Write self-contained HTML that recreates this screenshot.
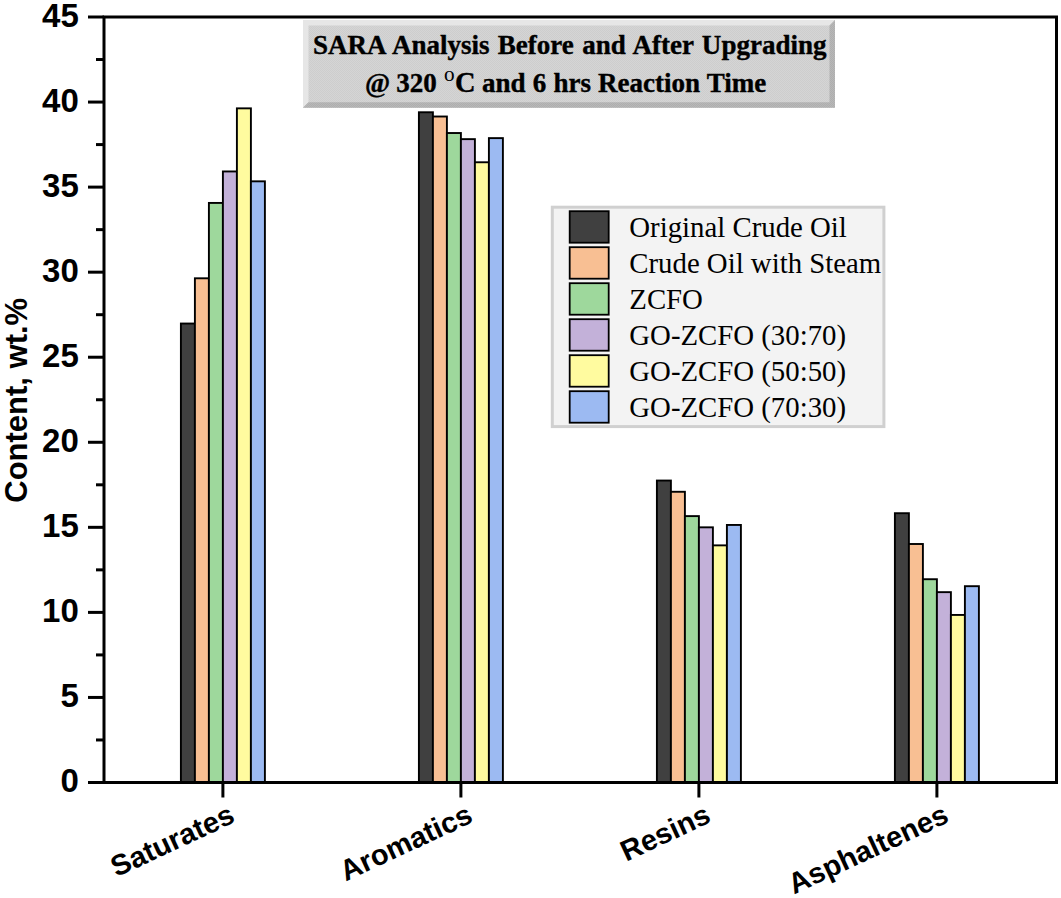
<!DOCTYPE html><html><head><meta charset="utf-8"><style>html,body{margin:0;padding:0;background:#fff;}svg{display:block;}</style></head><body>
<svg width="1061" height="898" viewBox="0 0 1061 898">
<defs><pattern id="dith" width="2" height="2" patternUnits="userSpaceOnUse"><rect width="2" height="2" fill="#d5d5d5"/><rect width="1" height="1" fill="#cdcdcd"/><rect x="1" y="1" width="1" height="1" fill="#cdcdcd"/></pattern><pattern id="dith2" width="2" height="2" patternUnits="userSpaceOnUse"><rect width="2" height="2" fill="#b8b8b8"/><rect width="1" height="1" fill="#aeaeae"/><rect x="1" y="1" width="1" height="1" fill="#aeaeae"/></pattern></defs>
<rect width="1061" height="898" fill="#fff"/>
<rect x="180.90" y="323.54" width="14.00" height="458.96" fill="#404040" stroke="#000" stroke-width="1.9"/>
<rect x="194.90" y="278.29" width="14.00" height="504.21" fill="#f8bf93" stroke="#000" stroke-width="1.9"/>
<rect x="208.90" y="202.93" width="14.00" height="579.57" fill="#9ed89c" stroke="#000" stroke-width="1.9"/>
<rect x="222.90" y="171.46" width="14.00" height="611.04" fill="#c3b1d9" stroke="#000" stroke-width="1.9"/>
<rect x="236.90" y="108.35" width="14.00" height="674.15" fill="#fffb9f" stroke="#000" stroke-width="1.9"/>
<rect x="250.90" y="181.33" width="14.00" height="601.17" fill="#9cbaf2" stroke="#000" stroke-width="1.9"/>
<rect x="418.90" y="112.26" width="14.00" height="670.24" fill="#404040" stroke="#000" stroke-width="1.9"/>
<rect x="432.90" y="116.51" width="14.00" height="665.99" fill="#f8bf93" stroke="#000" stroke-width="1.9"/>
<rect x="446.90" y="133.02" width="14.00" height="649.48" fill="#9ed89c" stroke="#000" stroke-width="1.9"/>
<rect x="460.90" y="139.14" width="14.00" height="643.36" fill="#c3b1d9" stroke="#000" stroke-width="1.9"/>
<rect x="474.90" y="162.27" width="14.00" height="620.23" fill="#fffb9f" stroke="#000" stroke-width="1.9"/>
<rect x="488.90" y="138.12" width="14.00" height="644.38" fill="#9cbaf2" stroke="#000" stroke-width="1.9"/>
<rect x="656.90" y="480.55" width="14.00" height="301.95" fill="#404040" stroke="#000" stroke-width="1.9"/>
<rect x="670.90" y="491.78" width="14.00" height="290.72" fill="#f8bf93" stroke="#000" stroke-width="1.9"/>
<rect x="684.90" y="516.11" width="14.00" height="266.39" fill="#9ed89c" stroke="#000" stroke-width="1.9"/>
<rect x="698.90" y="527.33" width="14.00" height="255.17" fill="#c3b1d9" stroke="#000" stroke-width="1.9"/>
<rect x="712.90" y="545.37" width="14.00" height="237.13" fill="#fffb9f" stroke="#000" stroke-width="1.9"/>
<rect x="726.90" y="524.95" width="14.00" height="257.55" fill="#9cbaf2" stroke="#000" stroke-width="1.9"/>
<rect x="894.90" y="513.21" width="14.00" height="269.29" fill="#404040" stroke="#000" stroke-width="1.9"/>
<rect x="908.90" y="544.00" width="14.00" height="238.50" fill="#f8bf93" stroke="#000" stroke-width="1.9"/>
<rect x="922.90" y="579.22" width="14.00" height="203.28" fill="#9ed89c" stroke="#000" stroke-width="1.9"/>
<rect x="936.90" y="592.15" width="14.00" height="190.35" fill="#c3b1d9" stroke="#000" stroke-width="1.9"/>
<rect x="950.90" y="614.94" width="14.00" height="167.56" fill="#fffb9f" stroke="#000" stroke-width="1.9"/>
<rect x="964.90" y="586.19" width="14.00" height="196.31" fill="#9cbaf2" stroke="#000" stroke-width="1.9"/>
<rect x="104" y="17" width="952.5" height="765.5" fill="none" stroke="#000" stroke-width="3"/>
<line x1="88" y1="782.50" x2="104" y2="782.50" stroke="#000" stroke-width="3"/>
<line x1="96" y1="739.97" x2="104" y2="739.97" stroke="#000" stroke-width="3"/>
<line x1="88" y1="697.44" x2="104" y2="697.44" stroke="#000" stroke-width="3"/>
<line x1="96" y1="654.92" x2="104" y2="654.92" stroke="#000" stroke-width="3"/>
<line x1="88" y1="612.39" x2="104" y2="612.39" stroke="#000" stroke-width="3"/>
<line x1="96" y1="569.86" x2="104" y2="569.86" stroke="#000" stroke-width="3"/>
<line x1="88" y1="527.33" x2="104" y2="527.33" stroke="#000" stroke-width="3"/>
<line x1="96" y1="484.81" x2="104" y2="484.81" stroke="#000" stroke-width="3"/>
<line x1="88" y1="442.28" x2="104" y2="442.28" stroke="#000" stroke-width="3"/>
<line x1="96" y1="399.75" x2="104" y2="399.75" stroke="#000" stroke-width="3"/>
<line x1="88" y1="357.22" x2="104" y2="357.22" stroke="#000" stroke-width="3"/>
<line x1="96" y1="314.69" x2="104" y2="314.69" stroke="#000" stroke-width="3"/>
<line x1="88" y1="272.17" x2="104" y2="272.17" stroke="#000" stroke-width="3"/>
<line x1="96" y1="229.64" x2="104" y2="229.64" stroke="#000" stroke-width="3"/>
<line x1="88" y1="187.11" x2="104" y2="187.11" stroke="#000" stroke-width="3"/>
<line x1="96" y1="144.58" x2="104" y2="144.58" stroke="#000" stroke-width="3"/>
<line x1="88" y1="102.06" x2="104" y2="102.06" stroke="#000" stroke-width="3"/>
<line x1="96" y1="59.53" x2="104" y2="59.53" stroke="#000" stroke-width="3"/>
<line x1="88" y1="17.00" x2="104" y2="17.00" stroke="#000" stroke-width="3"/>
<line x1="222.9" y1="782" x2="222.9" y2="797.5" stroke="#000" stroke-width="3"/>
<line x1="460.9" y1="782" x2="460.9" y2="797.5" stroke="#000" stroke-width="3"/>
<line x1="698.9" y1="782" x2="698.9" y2="797.5" stroke="#000" stroke-width="3"/>
<line x1="936.9" y1="782" x2="936.9" y2="797.5" stroke="#000" stroke-width="3"/>
<text x="78.8" y="792.10" text-anchor="end" font-family="Liberation Sans, sans-serif" font-weight="bold" font-size="33">0</text>
<text x="78.8" y="707.04" text-anchor="end" font-family="Liberation Sans, sans-serif" font-weight="bold" font-size="33">5</text>
<text x="78.8" y="621.99" text-anchor="end" font-family="Liberation Sans, sans-serif" font-weight="bold" font-size="33">10</text>
<text x="78.8" y="536.93" text-anchor="end" font-family="Liberation Sans, sans-serif" font-weight="bold" font-size="33">15</text>
<text x="78.8" y="451.88" text-anchor="end" font-family="Liberation Sans, sans-serif" font-weight="bold" font-size="33">20</text>
<text x="78.8" y="366.82" text-anchor="end" font-family="Liberation Sans, sans-serif" font-weight="bold" font-size="33">25</text>
<text x="78.8" y="281.77" text-anchor="end" font-family="Liberation Sans, sans-serif" font-weight="bold" font-size="33">30</text>
<text x="78.8" y="196.71" text-anchor="end" font-family="Liberation Sans, sans-serif" font-weight="bold" font-size="33">35</text>
<text x="78.8" y="111.66" text-anchor="end" font-family="Liberation Sans, sans-serif" font-weight="bold" font-size="33">40</text>
<text x="78.8" y="26.60" text-anchor="end" font-family="Liberation Sans, sans-serif" font-weight="bold" font-size="33">45</text>
<text transform="translate(27,400.3) rotate(-90)" text-anchor="middle" font-family="Liberation Sans, sans-serif" font-weight="bold" font-size="31">Content, wt.%</text>
<text transform="translate(236.4,821.5) rotate(-25)" text-anchor="end" font-family="Liberation Sans, sans-serif" font-weight="bold" font-size="29">Saturates</text>
<text transform="translate(474.4,821.5) rotate(-25)" text-anchor="end" font-family="Liberation Sans, sans-serif" font-weight="bold" font-size="29">Aromatics</text>
<text transform="translate(712.4,821.5) rotate(-25)" text-anchor="end" font-family="Liberation Sans, sans-serif" font-weight="bold" font-size="29">Resins</text>
<text transform="translate(950.4,821.5) rotate(-25)" text-anchor="end" font-family="Liberation Sans, sans-serif" font-weight="bold" font-size="29">Asphaltenes</text>
<rect x="303" y="20" width="532" height="87.7" fill="url(#dith)"/>
<polygon points="303,20 835,20 829.5,25.5 308.5,25.5 308.5,102.2 303,107.7" fill="#e6e6e6"/>
<polygon points="835,20 835,107.7 303,107.7 308.5,102.2 829.5,102.2 829.5,25.5" fill="url(#dith2)"/>
<text transform="translate(313,54.3) scale(0.965,1)" style="word-spacing:1.66px" font-family="Liberation Serif, serif" font-weight="bold" font-size="28" stroke="#000" stroke-width="0.4">SARA Analysis Before and After Upgrading</text>
<text transform="translate(365,91.7) scale(0.965,1)" style="word-spacing:-0.57px" font-family="Liberation Serif, serif" font-weight="bold" font-size="28" stroke="#000" stroke-width="0.4">@ 320</text>
<text transform="translate(444,80.5) scale(0.965,1)" font-family="Liberation Serif, serif" font-size="22">o</text>
<text transform="translate(455,91.7) scale(0.965,1)" font-family="Liberation Serif, serif" font-weight="bold" font-size="29.5" stroke="#000" stroke-width="0.4">C</text>
<text transform="translate(482,91.7) scale(0.965,1)" style="word-spacing:0.45px" font-family="Liberation Serif, serif" font-weight="bold" font-size="28" stroke="#000" stroke-width="0.4">and 6 hrs Reaction Time</text>
<rect x="552.3" y="207.2" width="331.6" height="219.4" fill="#f3f3f3" stroke="#d0d0d0" stroke-width="3" transform="translate(0,0)"/>
<rect x="569.7" y="211.20" width="39" height="31.5" fill="#404040" stroke="#000" stroke-width="1.8"/>
<text transform="translate(629.3,237.10) scale(1,1.04)" font-family="Liberation Serif, serif" font-size="28.8">Original Crude Oil</text>
<rect x="569.7" y="247.20" width="39" height="31.5" fill="#f8bf93" stroke="#000" stroke-width="1.8"/>
<text transform="translate(629.3,273.10) scale(1,1.04)" font-family="Liberation Serif, serif" font-size="28.8">Crude Oil with Steam</text>
<rect x="569.7" y="283.20" width="39" height="31.5" fill="#9ed89c" stroke="#000" stroke-width="1.8"/>
<text transform="translate(629.3,309.10) scale(1,1.04)" font-family="Liberation Serif, serif" font-size="28.8">ZCFO</text>
<rect x="569.7" y="319.20" width="39" height="31.5" fill="#c3b1d9" stroke="#000" stroke-width="1.8"/>
<text transform="translate(629.3,345.10) scale(1,1.04)" font-family="Liberation Serif, serif" font-size="28.8">GO-ZCFO (30:70)</text>
<rect x="569.7" y="355.20" width="39" height="31.5" fill="#fffb9f" stroke="#000" stroke-width="1.8"/>
<text transform="translate(629.3,381.10) scale(1,1.04)" font-family="Liberation Serif, serif" font-size="28.8">GO-ZCFO (50:50)</text>
<rect x="569.7" y="391.20" width="39" height="31.5" fill="#9cbaf2" stroke="#000" stroke-width="1.8"/>
<text transform="translate(629.3,417.10) scale(1,1.04)" font-family="Liberation Serif, serif" font-size="28.8">GO-ZCFO (70:30)</text>
</svg></body></html>
